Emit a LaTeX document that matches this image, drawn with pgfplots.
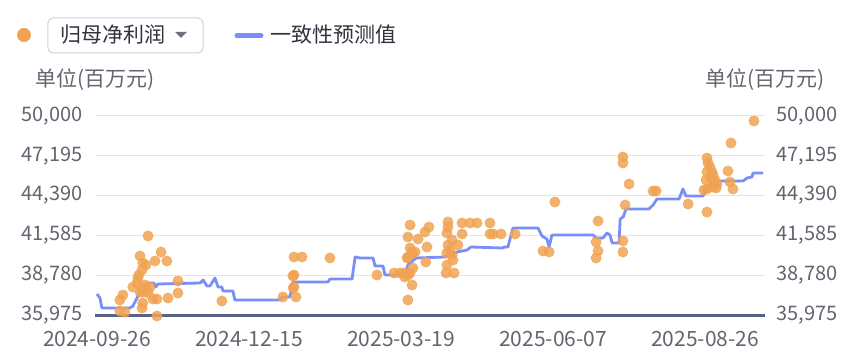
\documentclass[border=0pt]{standalone}
\usepackage{pgfplots}
\pgfplotsset{compat=1.18}
\usepackage{fontspec}
\setmainfont{Noto Sans CJK SC}
\definecolor{dotc}{RGB}{240,163,82}
\definecolor{linec}{RGB}{122,142,250}
\definecolor{gridc}{RGB}{228,228,240}
\definecolor{axc}{RGB}{88,98,135}
\definecolor{tickc}{RGB}{100,100,112}
\definecolor{legc}{RGB}{50,50,62}
\definecolor{boxc}{RGB}{208,208,226}
\definecolor{tric}{RGB}{110,110,128}

\begin{document}
\begin{tikzpicture}[x=1pt,y=1pt]
\useasboundingbox (-95,-41) rectangle (761,315);
\pgfplotsset{
  base/.style={
    at={(0,0)}, anchor=south west,
    scale only axis, width=670pt, height=199pt,
    xmin=-0.7, xmax=241.7, ymin=35975, ymax=50000,
    ytick={35975,38780,41585,44390,47195,50000},
    scaled y ticks=false,
    axis line style={draw=none},
    tick style={draw=none},
    /pgf/number format/.cd, 1000 sep={,}, assume math mode=true,
  }
}
\begin{axis}[base,
  xtick={0,55,110,165,220},
  xticklabels={2024-09-26,2024-12-15,2025-03-19,2025-06-07,2025-08-26},
  ymajorgrids, major grid style={gridc, line width=1pt},
  yticklabel pos=left,
  yticklabel style={font=\fontsize{20}{20}\selectfont, text=tickc, xshift=-9pt},
  xticklabel style={font=\fontsize{21}{21}\selectfont, text=tickc, yshift=-13pt},
  clip=false,
]
\draw[axc, line width=3pt] (rel axis cs:0,0) -- (rel axis cs:1,0);
\addplot[linec, line width=2.8pt, line join=round] table {
x y
0 37455
1.1 37173
1.8 36468
11.9 36468
13.0 36609
14.5 37173
15.6 37596
18.1 38230
20.6 38230
21.3 37948
22.1 38160
37.3 38230
38.4 38442
39.8 38019
40.9 38019
42.7 38583
43.8 37948
45.2 37948
45.6 37667
49.2 37667
49.9 37032
66.2 37032
67.3 37244
69.8 37244
70.9 38301
83.6 38301
84.3 38512
92.3 38512
93.4 40063
95.2 39992
99.9 39992
100.6 39429
103.5 39429
104.2 38794
111.4 38794
112.5 39499
115.4 39992
125.9 40063
130.3 40415
133.9 40556
135.3 40768
146.5 40697
147.6 40768
148.7 40768
150.5 42107
159.6 42107
161.0 41543
162.8 41331
163.6 40768
164.6 41613
179.5 41613
180.6 41402
183.1 41402
184.5 41754
185.6 41613
186.4 41050
188.9 41050
189.3 42741
190.4 42882
191.4 43446
199.7 43446
201.2 43728
202.6 44151
210.6 44151
212.0 44855
213.1 44362
219.3 44362
220.4 44855
221.8 45137
224.7 45419
233.8 45419
235.2 45631
237.0 45701
237.4 45983
241.0 45983
};
\addplot[only marks, color=dotc, mark=*, mark size=5.2pt,
  mark options={fill=dotc, draw=dotc, line width=0.4pt, opacity=0.85}] table {
x y
18.5 41543
23.2 40415
15.6 40133
21.0 39781
25.3 39781
16.6 39640
17.7 39499
16.3 39147
15.2 38794
14.8 38583
29.3 38371
14.5 38230
13.0 37948
16.6 37878
18.1 37737
15.6 37596
16.6 37596
18.5 37526
17.4 38089
19.2 37948
29.3 37526
9.4 37385
8.3 37032
20.3 37103
21.7 37103
25.7 37173
16.6 36821
16.3 36468
8.3 36257
10.1 36186
21.7 35905
45.2 36962
71.3 40063
74.2 40063
71.3 38794
70.9 38724
71.0 37878
71.3 37950
67.3 37244
72.0 37244
84.3 39992
101.3 38794
107.5 38935
109.6 38935
111.1 38935
112.5 37032
114.0 38089
113.3 42318
112.5 41472
118.7 41825
120.1 42177
116.2 41331
119.4 40768
113.3 40697
114.0 40415
112.5 40063
115.1 40415
114.3 39288
112.5 38794
113.3 38935
119.0 39710
111.4 38653
112.2 39992
114.3 40345
127.0 42530
127.0 42177
126.6 41754
128.5 41261
130.6 40909
127.0 40909
127.7 40556
126.6 40345
128.5 40204
128.8 39851
126.6 39499
126.3 38935
129.2 38935
132.1 42459
132.1 41684
135.0 42459
137.5 42459
142.2 42459
142.2 41684
143.3 41684
146.2 41684
151.3 41684
165.7 43939
161.4 40486
163.6 40415
181.3 42600
180.6 41120
181.3 40486
180.6 39992
190.3 47111
190.3 46688
192.5 45208
191.1 43728
190.3 41191
190.3 40415
201.2 44714
202.3 44714
213.9 43798
220.7 43234
237.7 49648
229.4 48098
220.7 47040
221.1 46688
221.8 46406
220.7 46054
222.5 46054
222.9 45842
220.4 45490
223.6 45490
224.3 45208
222.9 44996
220.7 44855
224.0 44926
219.6 44785
228.3 46124
229.0 45349
230.1 44855
222.1 45631
};
\end{axis}
\begin{axis}[base,
  xtick=\empty,
  yticklabel pos=right,
  yticklabel style={font=\fontsize{20}{20}\selectfont, text=tickc, xshift=8pt},
]
\end{axis}
% unit labels
\node[font=\fontsize{21}{21}\selectfont, text=tickc] at (0,235) {单位(百万元)};
\node[font=\fontsize{21}{21}\selectfont, text=tickc] at (670,235) {单位(百万元)};
% legend
\fill[dotc] (-71,280) circle (7);
\draw[boxc, line width=1pt, rounded corners=5pt] (-47,297) rectangle (108,262);
\node[anchor=west, inner sep=0, font=\fontsize{21}{21}\selectfont, text=legc] at (-35,280) {归母净利润};
\fill[tric] (80,283) -- (92,283) -- (86,277) -- cycle;
\draw[linec, line width=5pt, line cap=round] (142,279) -- (166,279);
\node[anchor=west, inner sep=0, font=\fontsize{21}{21}\selectfont, text=legc] at (175,280) {一致性预测值};
\end{tikzpicture}
\end{document}
